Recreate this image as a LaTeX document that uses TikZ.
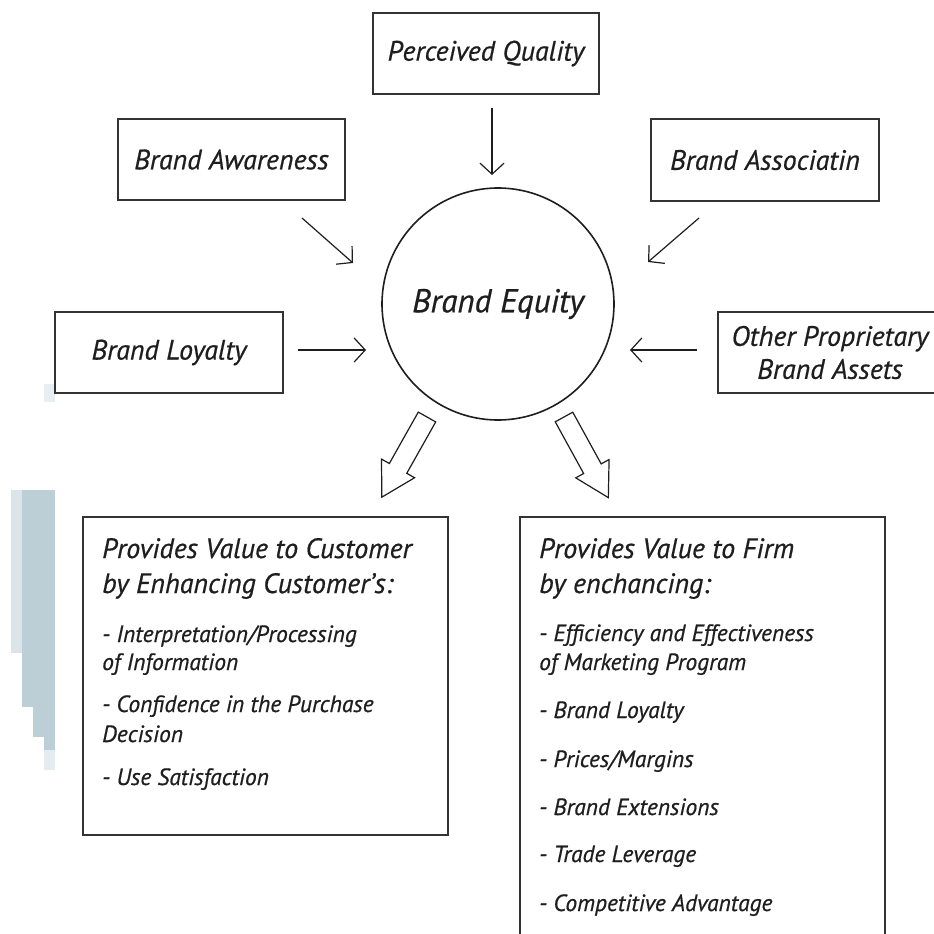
\documentclass[tikz,border=0pt]{standalone}
\usepackage{fontspec}
\setmainfont{PT Sans}
\newfontfamily\itf{PT Sans Italic}[FakeBold=0.6]
\usetikzlibrary{arrows.meta}
\definecolor{ink}{HTML}{1E1E1E}
\definecolor{edge}{HTML}{333333}
\definecolor{haze}{RGB}{188,207,215}
\begin{document}
\begin{tikzpicture}[x=1pt,y=-1pt,
  lbl/.style={font=\itf\fontsize{28}{33}\selectfont, text=ink, align=center},
  box/.style={draw=edge, line width=1.8pt, inner sep=0pt},
  feed/.style={draw=ink, line width=1.2pt, -{Straight Barb[length=11pt,width=24pt]}},
  headline/.style={font=\itf\fontsize{28}{30}\selectfont, text=ink, anchor=base west, inner sep=0pt},
  itemline/.style={font=\itf\fontsize{23.5}{26}\selectfont, text=ink, anchor=base west, inner sep=0pt},
  hollow/.style={draw=ink, line width=1.2pt, fill=white, line join=miter}]
\useasboundingbox (0,0) rectangle (934,934);
\clip (0,0) rectangle (934,934);
\fill[white] (0,0) rectangle (934,934);

% pale stripe at the left margin
\fill[haze!55] (11,490) rectangle (22,653);
\fill[haze] (22,490) rectangle (33,707);
\fill[haze] (33,490) rectangle (44,737);
\fill[haze] (44,490) rectangle (55,750);
\fill[haze!40] (44,750) rectangle (55,770);
\fill[haze!35] (44,384) rectangle (55,402);

% the centre
\node[circle, draw=ink, line width=1.6pt, minimum size=232pt, inner sep=0pt,
      font=\itf\fontsize{33}{36}\selectfont, text=ink] (eq) at (498,304) {Brand Equity};

% the five sources
\node[box, lbl, minimum width=226pt, minimum height=81pt] (pq)  at (486,53.5)  {Perceived Quality};
\node[box, lbl, minimum width=227pt, minimum height=81pt] (aw)  at (231.5,159.5) {Brand Awareness};
\node[box, lbl, minimum width=228pt, minimum height=82pt] (as)  at (765,160)   {Brand Associatin};
\node[box, lbl, minimum width=228pt, minimum height=81pt] (lo)  at (169,352.5) {Brand Loyalty};
\node[box, lbl, minimum width=224pt, minimum height=81pt] (op)  at (830,352.5) {Other Proprietary\\Brand Assets};

% arrow ends
\coordinate (pqA) at (492,108);  \coordinate (pqB) at (492,175);
\coordinate (awA) at (302,218);  \coordinate (awB) at (353,263);
\coordinate (asA) at (699,218);  \coordinate (asB) at (648,262);
\coordinate (loA) at (298,350);  \coordinate (loB) at (366,350);
\coordinate (opA) at (697,350);  \coordinate (opB) at (630,350);
\draw[feed] (pqA) -- (pqB);
\draw[feed] (awA) -- (awB);
\draw[feed] (asA) -- (asB);
\draw[feed] (loA) -- (loB);
\draw[feed] (opA) -- (opB);

% the two outcome boxes
\node[box, minimum width=365pt, minimum height=318pt] (cust) at (265.5,676) {};
\node[box, minimum width=365pt, minimum height=443pt] (firm) at (702.5,738.5) {};

% hollow block arrows from the centre
\coordinate (custA) at (427,417);
\coordinate (firmA) at (564,417);
\begin{scope}[shift={(custA)}, rotate=240.6]
  \draw[hollow] (0pt,10pt) -- (59pt,10pt) -- (59pt,19pt) -- (92pt,0pt)
                -- (59pt,-19pt) -- (59pt,-10pt) -- (0pt,-10pt) -- cycle;
\end{scope}
\begin{scope}[shift={(firmA)}, rotate=298.8]
  \draw[hollow] (0pt,10pt) -- (59pt,10pt) -- (59pt,19pt) -- (92pt,0pt)
                -- (59pt,-19pt) -- (59pt,-10pt) -- (0pt,-10pt) -- cycle;
\end{scope}

% customer side text
\node[headline] (c1) at (102,558) {Provides Value to Customer};
\node[headline] (c2) at (102,593) {by Enhancing Customer’s:};
\node[itemline] (c3) at (102,642) {- Interpretation/Processing};
\node[itemline] (c4) at (102,670) {of Information};
\node[itemline] (c5) at (102,712) {- Confidence in the Purchase};
\node[itemline] (c6) at (102,742) {Decision};
\node[itemline] (c7) at (102,785) {- Use Satisfaction};

% firm side text
\node[headline] (f1) at (539,558) {Provides Value to Firm};
\node[headline] (f2) at (539,593) {by enchancing:};
\node[itemline] (f3) at (539,641) {- Efficiency and Effectiveness};
\node[itemline] (f4) at (539,670) {of Marketing Program};
\node[itemline] (f5) at (539,718) {- Brand Loyalty};
\node[itemline] (f6) at (539,767) {- Prices/Margins};
\node[itemline] (f7) at (539,815) {- Brand Extensions};
\node[itemline] (f8) at (539,862) {- Trade Leverage};
\node[itemline] (f9) at (539,911) {- Competitive Advantage};
\end{tikzpicture}
\end{document}
